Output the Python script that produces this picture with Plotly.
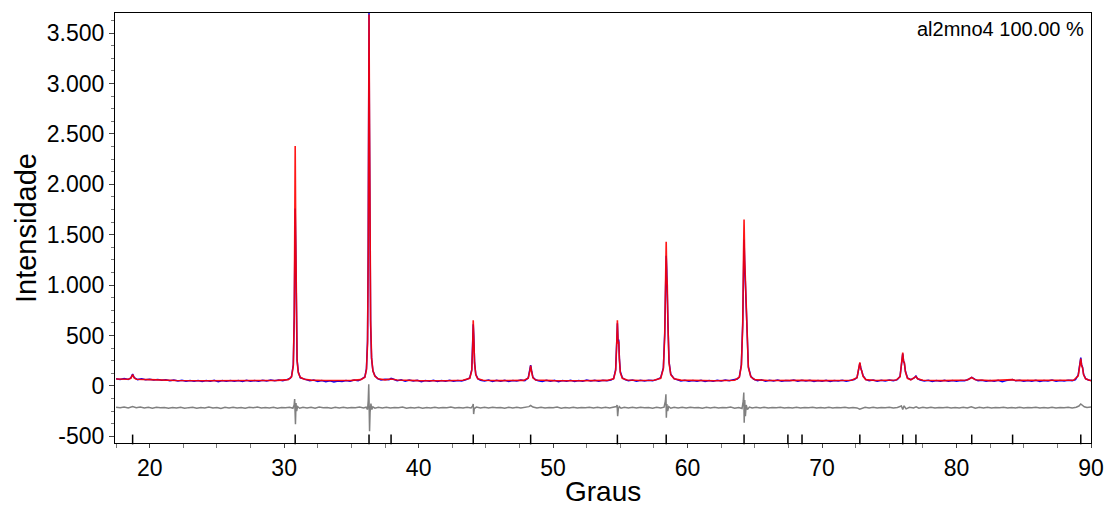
import plotly.graph_objects as go

# ---------------- data ----------------
# calculated profile (red)
calc_2theta = [17.5, 18.4, 18.6, 18.73, 18.85, 19.0, 20.0, 21.0, 22.0, 24.0, 26.0, 28.0, 29.5, 30.3,
               30.55, 30.68, 30.75, 30.79, 30.82, 30.86, 30.9, 30.96, 31.05, 31.2, 31.5, 32.0, 33.0, 34.0,
               35.0, 35.7, 36.0, 36.12, 36.2, 36.25, 36.28, 36.31, 36.34, 36.38, 36.43, 36.5, 36.6, 36.75,
               37.0, 37.5, 37.95, 38.4, 39.0, 40.0, 42.0, 43.3, 43.8, 43.95, 44.02, 44.06, 44.1, 44.16,
               44.25, 44.4, 44.8, 46.0, 47.8, 48.15, 48.27, 48.33, 48.4, 48.5, 48.7, 50.0, 52.0, 54.0,
               54.5, 54.65, 54.73, 54.78, 54.83, 54.88, 54.93, 55.0, 55.15, 55.5, 56.5, 57.5, 58.0, 58.2,
               58.3, 58.36, 58.41, 58.45, 58.49, 58.54, 58.62, 58.75, 59.0, 59.5, 60.5, 62.0, 63.5, 63.85,
               64.0, 64.1, 64.16, 64.2, 64.25, 64.3, 64.35, 64.42, 64.52, 64.7, 65.0, 66.0, 67.46, 68.5,
               70.0, 72.2, 72.6, 72.74, 72.81, 72.88, 72.95, 73.05, 73.25, 74.0, 75.5, 75.8, 75.93, 76.0,
               76.06, 76.12, 76.2, 76.35, 76.6, 76.9, 76.98, 77.1, 77.5, 79.0, 80.8, 81.13, 81.4, 82.5,
               84.0, 84.17, 84.4, 86.0, 88.7, 89.05, 89.18, 89.24, 89.3, 89.37, 89.45, 89.6, 90.0]
calc_intensity = [68, 66, 75, 112, 78, 66, 62, 57, 53, 51, 50, 51, 54, 62,
                  90, 200, 700, 1600, 2380, 1500, 650, 250, 130, 85, 65, 57, 53, 52,
                  54, 62, 85, 160, 420, 1300, 2700, 3685, 2800, 1400, 650, 280, 150, 95,
                  70, 60, 68, 58, 54, 52, 51, 55, 75, 150, 400, 650, 480, 220,
                  110, 70, 56, 52, 54, 75, 150, 200, 140, 80, 58, 52, 51, 54,
                  70, 150, 420, 650, 420, 440, 260, 130, 75, 58, 53, 56, 75, 170,
                  500, 1100, 1430, 1100, 1000, 600, 230, 110, 70, 57, 52, 51, 56, 85,
                  200, 600, 1300, 1650, 1250, 1020, 900, 450, 180, 90, 62, 53, 56, 54,
                  52, 55, 80, 170, 233, 170, 150, 95, 62, 53, 58, 90, 230, 330,
                  240, 230, 140, 75, 60, 80, 93, 70, 55, 52, 58, 83, 60, 52,
                  56, 62, 54, 53, 56, 100, 220, 270, 200, 180, 110, 70, 50]

# observed pattern (blue)
obs_2theta = [17.5, 17.8, 18.1, 18.4, 18.6, 18.73, 18.85, 19.1, 19.4, 19.7, 20.0, 20.3, 20.6, 20.9,
              21.2, 21.5, 21.8, 22.1, 22.4, 22.7, 23.0, 23.3, 23.6, 23.9, 24.2, 24.5, 24.8, 25.1,
              25.4, 25.7, 26.0, 26.3, 26.6, 26.9, 27.2, 27.5, 27.8, 28.1, 28.4, 28.7, 29.0, 29.3,
              29.6, 29.9, 30.2, 30.45,
              30.55, 30.68, 30.75, 30.79, 30.82, 30.86, 30.9, 30.96, 31.05, 31.2, 31.4,
              31.6, 31.9, 32.2, 32.5, 32.8, 33.1, 33.4, 33.7, 34.0, 34.3, 34.6, 34.9, 35.2, 35.5, 35.75,
              36.0, 36.12, 36.2, 36.25, 36.28, 36.31, 36.34, 36.38, 36.43, 36.5, 36.6, 36.75, 36.95,
              37.2, 37.5, 37.8, 37.95, 38.1, 38.4, 38.7, 39.0, 39.3, 39.6, 39.9, 40.2, 40.5, 40.8,
              41.1, 41.4, 41.7, 42.0, 42.3, 42.6, 42.9, 43.2, 43.5, 43.8,
              43.95, 44.02, 44.06, 44.1, 44.16, 44.25, 44.4, 44.6,
              44.9, 45.2, 45.5, 45.8, 46.1, 46.4, 46.7, 47.0, 47.3, 47.6, 47.9, 48.15, 48.27, 48.33,
              48.4, 48.5, 48.7, 48.9, 49.2, 49.5, 49.8, 50.1, 50.4, 50.7, 51.0, 51.3, 51.6, 51.9,
              52.2, 52.5, 52.8, 53.1, 53.4, 53.7, 54.0, 54.3, 54.5,
              54.65, 54.73, 54.78, 54.83, 54.88, 54.93, 55.0, 55.15, 55.35,
              55.6, 55.9, 56.2, 56.5, 56.8, 57.1, 57.4, 57.7, 58.0,
              58.2, 58.3, 58.36, 58.41, 58.45, 58.49, 58.54, 58.62, 58.75, 59.0, 59.25,
              59.5, 59.8, 60.1, 60.4, 60.7, 61.0, 61.3, 61.6, 61.9, 62.2, 62.5, 62.8, 63.1, 63.4,
              63.7, 63.85,
              64.0, 64.1, 64.16, 64.2, 64.25, 64.3, 64.35, 64.42, 64.52, 64.7, 64.9,
              65.2, 65.5, 65.8, 66.1, 66.4, 66.7, 67.0, 67.3, 67.6, 67.9, 68.2, 68.5, 68.8, 69.1,
              69.4, 69.7, 70.0, 70.3, 70.6, 70.9, 71.2, 71.5, 71.8, 72.1, 72.4, 72.6,
              72.74, 72.81, 72.88, 72.95, 73.05, 73.25,
              73.5, 73.8, 74.1, 74.4, 74.7, 75.0, 75.3, 75.6, 75.8,
              75.93, 76.0, 76.06, 76.12, 76.2, 76.35, 76.6, 76.85, 76.98, 77.1, 77.3,
              77.6, 77.9, 78.2, 78.5, 78.8, 79.1, 79.4, 79.7, 80.0, 80.3, 80.6, 80.9, 81.13, 81.35,
              81.6, 81.9, 82.2, 82.5, 82.8, 83.1, 83.4, 83.7, 84.0, 84.17, 84.4, 84.7, 85.0, 85.3,
              85.6, 85.9, 86.2, 86.5, 86.8, 87.1, 87.4, 87.7, 88.0, 88.3, 88.6, 88.85,
              89.05, 89.18, 89.24, 89.3, 89.37, 89.45, 89.6, 89.8, 90.0]
obs_intensity = [70, 64, 72, 63, 80, 118, 82, 62, 70, 60, 66, 58, 64, 55,
                 61, 50, 57, 48, 55, 47, 54, 46, 53, 44, 52, 47, 55, 40,
                 52, 46, 54, 45, 52, 44, 55, 47, 53, 46, 56, 48, 57, 50,
                 58, 52, 62, 75,
                 95, 210, 680, 1450, 1760, 1400, 620, 260, 140, 80, 72,
                 60, 50, 58, 44, 52, 40, 50, 38, 49, 43, 54, 46, 57, 52, 66,
                 88, 170, 450, 1400, 2750, 3720, 2600, 1250, 600, 270, 150, 100, 72,
                 58, 65, 62, 75, 68, 52, 60, 45, 57, 48, 55, 42, 54, 47,
                 56, 44, 53, 46, 55, 45, 54, 48, 60, 78,
                 160, 420, 610, 500, 230, 115, 72, 55,
                 48, 57, 44, 55, 47, 56, 43, 54, 48, 57, 52, 80, 160, 205,
                 150, 85, 60, 50, 44, 56, 45, 55, 42, 54, 47, 55, 44, 53,
                 46, 57, 48, 55, 45, 56, 50, 58, 72,
                 160, 430, 620, 440, 460, 270, 140, 80, 62,
                 50, 58, 46, 55, 48, 56, 52, 62, 80,
                 180, 520, 1050, 1290, 1150, 1000, 620, 240, 115, 72, 58,
                 48, 56, 45, 54, 47, 56, 44, 53, 46, 55, 48, 57, 50, 60,
                 68, 88,
                 210, 620, 1350, 1450, 1200, 1000, 880, 470, 190, 95, 68,
                 52, 60, 46, 55, 48, 57, 45, 54, 50, 58, 47, 56, 49, 55,
                 44, 53, 47, 55, 43, 54, 48, 56, 46, 57, 62, 82,
                 175, 225, 180, 150, 100, 64,
                 50, 58, 46, 55, 49, 57, 50, 62, 95,
                 240, 320, 250, 225, 145, 80, 62, 78, 98, 72, 58,
                 48, 56, 44, 53, 47, 55, 45, 52, 46, 54, 50, 65, 85, 66,
                 50, 56, 45, 53, 46, 55, 42, 52, 55, 63, 50, 56, 45, 54,
                 47, 55, 44, 53, 48, 57, 46, 54, 49, 56, 52, 62,
                 110, 240, 280, 210, 185, 115, 72, 58, 52]

# difference curve (grey), offset below the pattern
diff_2theta = [17.5, 17.8, 18.1, 18.4, 18.73, 19.0, 19.3, 19.6, 19.9, 20.2, 20.5, 20.8, 21.1, 21.4,
               21.7, 22.0, 22.3, 22.6, 22.9, 23.2, 23.5, 23.8, 24.1, 24.4, 24.7, 25.0, 25.3, 25.6,
               25.9, 26.2, 26.5, 26.8, 27.1, 27.4, 27.7, 28.0, 28.3, 28.6, 28.9, 29.2, 29.5, 29.8,
               30.1, 30.4, 30.65, 30.74, 30.78, 30.81, 30.84, 30.88, 30.93, 31.0, 31.15, 31.4, 31.7, 32.0,
               32.3, 32.6, 32.9, 33.2, 33.5, 33.8, 34.1, 34.4, 34.7, 35.0, 35.3, 35.6, 35.9, 36.1,
               36.2, 36.25, 36.29, 36.32, 36.35, 36.39, 36.45, 36.52, 36.6, 36.75, 37.0, 37.3, 37.6, 37.9,
               38.2, 38.5, 38.8, 39.1, 39.4, 39.7, 40.0, 40.3, 40.6, 40.9, 41.2, 41.5, 41.8, 42.1,
               42.4, 42.7, 43.0, 43.3, 43.6, 43.9, 44.02, 44.06, 44.09, 44.14, 44.3, 44.6, 44.9, 45.2,
               45.5, 45.8, 46.1, 46.4, 46.7, 47.0, 47.3, 47.6, 47.9, 48.2, 48.33, 48.5, 48.8, 49.1,
               49.4, 49.7, 50.0, 50.3, 50.6, 50.9, 51.2, 51.5, 51.8, 52.1, 52.4, 52.7, 53.0, 53.3,
               53.6, 53.9, 54.2, 54.5, 54.7, 54.76, 54.8, 54.85, 54.92, 55.05, 55.3, 55.6, 55.9, 56.2,
               56.5, 56.8, 57.1, 57.4, 57.7, 58.0, 58.25, 58.35, 58.39, 58.42, 58.46, 58.52, 58.6, 58.75,
               59.0, 59.3, 59.6, 59.9, 60.2, 60.5, 60.8, 61.1, 61.4, 61.7, 62.0, 62.3, 62.6, 62.9,
               63.2, 63.5, 63.8, 64.05, 64.14, 64.18, 64.21, 64.25, 64.3, 64.36, 64.45, 64.6, 64.8, 65.1,
               65.4, 65.7, 66.0, 66.3, 66.6, 66.9, 67.2, 67.5, 67.8, 68.1, 68.4, 68.7, 69.0, 69.3,
               69.6, 69.9, 70.2, 70.5, 70.8, 71.1, 71.4, 71.7, 72.0, 72.3, 72.6, 72.8, 72.95, 73.2,
               73.5, 73.8, 74.1, 74.4, 74.7, 75.0, 75.3, 75.6, 75.9, 76.0, 76.1, 76.25, 76.5, 76.8,
               77.0, 77.2, 77.5, 77.8, 78.1, 78.4, 78.7, 79.0, 79.3, 79.6, 79.9, 80.2, 80.5, 80.8,
               81.1, 81.4, 81.7, 82.0, 82.3, 82.6, 82.9, 83.2, 83.5, 83.8, 84.1, 84.4, 84.7, 85.0,
               85.3, 85.6, 85.9, 86.2, 86.5, 86.8, 87.1, 87.4, 87.7, 88.0, 88.3, 88.6, 88.9, 89.1,
               89.24, 89.35, 89.5, 89.7, 90.0]
diff_intensity = [-212, -218, -210, -220, -206, -216, -211, -219, -213, -221, -212, -218, -214, -222,
                  -215, -219, -212, -221, -216, -213, -222, -215, -219, -211, -220, -214, -225, -213,
                  -219, -212, -220, -215, -222, -213, -218, -211, -220, -214, -219, -212, -221, -215,
                  -218, -213, -222, -190, -130, -300, -380, -170, -250, -205, -222, -212, -219, -213,
                  -221, -211, -218, -214, -223, -213, -219, -212, -220, -214, -218, -211, -220, -212,
                  -235, -150, 17, -200, -450, -260, -175, -235, -208, -221, -213, -219, -212, -220,
                  -214, -218, -211, -222, -214, -219, -212, -221, -215, -219, -212, -220, -214, -218,
                  -211, -220, -214, -219, -212, -220, -200, -180, -280, -225, -210, -219, -213, -220,
                  -212, -218, -214, -221, -213, -219, -212, -220, -214, -206, -195, -210, -219, -212,
                  -220, -214, -218, -211, -221, -214, -219, -212, -220, -214, -218, -212, -220, -213,
                  -219, -212, -220, -214, -205, -190, -300, -230, -205, -222, -212, -219, -213, -220,
                  -212, -218, -214, -221, -213, -219, -212, -150, -83, -317, -180, -250, -205, -222,
                  -212, -219, -213, -220, -212, -218, -214, -221, -213, -219, -212, -220, -214, -218,
                  -211, -221, -214, -225, -150, -67, -367, -140, -300, -190, -235, -210, -220, -213,
                  -219, -212, -220, -214, -218, -212, -220, -214, -219, -212, -220, -214, -218, -212,
                  -220, -214, -219, -212, -220, -214, -218, -212, -220, -214, -219, -232, -225, -213,
                  -219, -212, -220, -214, -218, -212, -220, -214, -200, -235, -198, -228, -212, -219,
                  -208, -221, -213, -219, -212, -220, -214, -218, -212, -220, -214, -219, -212, -220,
                  -207, -221, -213, -219, -212, -220, -214, -218, -212, -220, -214, -219, -212, -220,
                  -214, -218, -212, -220, -214, -219, -212, -220, -214, -218, -212, -220, -212, -200,
                  -180, -195, -207, -215, -210]

# Bragg reflection positions (tick markers along the bottom)
reflection_2theta = [18.73, 30.82, 36.31, 37.95, 44.06, 48.33, 54.78, 58.41, 64.20, 67.46, 68.51,
                     72.81, 76.00, 76.98, 81.13, 84.17, 89.24]

y_tickvals = [-500, 0, 500, 1000, 1500, 2000, 2500, 3000, 3500]
y_ticktext = ["-500", "0", "500", "1.000", "1.500", "2.000", "2.500", "3.000", "3.500"]
x_tickvals = [20, 30, 40, 50, 60, 70, 80, 90]
x_ticktext = ["20", "30", "40", "50", "60", "70", "80", "90"]

phase_label = "al2mno4 100.00 %"
x_title = "Graus"
y_title = "Intensidade"

# ---------------- figure ----------------
X_RANGE = [17.42, 90]
Y_RANGE = [-567, 3700]
FONT = "Liberation Sans, Arial, sans-serif"

fig = go.Figure()

fig.add_trace(go.Scatter(x=diff_2theta, y=diff_intensity, mode="lines",
                         line=dict(color="#808080", width=1.5), hoverinfo="skip"))
fig.add_trace(go.Scatter(x=obs_2theta, y=obs_intensity, mode="lines",
                         line=dict(color="#0000FF", width=1.5), hoverinfo="skip"))
fig.add_trace(go.Scatter(x=calc_2theta, y=calc_intensity, mode="lines",
                         line=dict(color="#FF0000", width=1.6), opacity=0.9, hoverinfo="skip"))
fig.add_trace(go.Scatter(x=reflection_2theta, y=[-532] * len(reflection_2theta), mode="markers",
                         marker=dict(symbol="line-ns", size=7, line=dict(color="black", width=1.5)),
                         hoverinfo="skip", cliponaxis=False))

fig.update_layout(
    width=1116, height=507,
    margin=dict(l=115, r=15, t=13, b=64),
    paper_bgcolor="white", plot_bgcolor="white",
    showlegend=False,
    font=dict(family=FONT, color="black"),
    xaxis=dict(range=X_RANGE, showgrid=False, zeroline=False,
               showline=True, linecolor="black", linewidth=1, mirror=True,
               ticks="outside", ticklen=4, tickcolor="#444", tickwidth=1,
               tickvals=x_tickvals, ticktext=x_ticktext,
               tickfont=dict(size=23, family=FONT, color="black"),
               minor=dict(dtick=2.5, tick0=0, ticks="outside", ticklen=4, tickcolor="#777", tickwidth=1)),
    yaxis=dict(range=Y_RANGE, showgrid=False, zeroline=False,
               showline=True, linecolor="black", linewidth=1, mirror=True,
               ticks="outside", ticklen=5, tickcolor="#444", tickwidth=1,
               tickvals=y_tickvals, ticktext=y_ticktext,
               tickfont=dict(size=23, family=FONT, color="black"),
               minor=dict(dtick=125, tick0=0, ticks="outside", ticklen=3, tickcolor="#777", tickwidth=1)),
    annotations=[
        dict(text=phase_label, xref="paper", yref="paper", x=1, y=1, xanchor="right", yanchor="top",
             xshift=-5, yshift=-3, showarrow=False, font=dict(size=20, family=FONT, color="black")),
        dict(text=x_title, xref="paper", yref="paper", x=0.5, y=0, xanchor="center", yanchor="bottom",
             yshift=-66, showarrow=False, font=dict(size=28, family=FONT, color="black")),
        dict(text=y_title, xref="paper", yref="paper", x=0, y=0.5, xanchor="center", yanchor="middle",
             xshift=-89, textangle=-90, showarrow=False, font=dict(size=29, family=FONT, color="black")),
    ],
)

fig.write_html("out.html", config={"displayModeBar": False},
               post_script="document.body.style.margin='0px';document.body.style.overflow='hidden';")
